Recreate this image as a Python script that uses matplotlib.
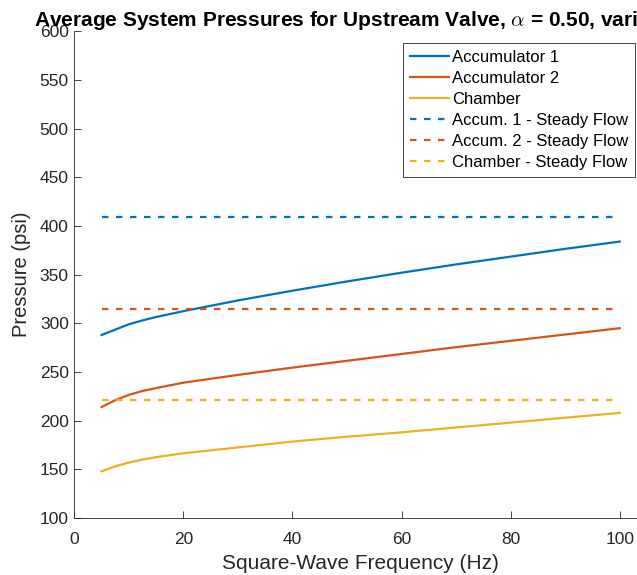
import matplotlib
matplotlib.use("Agg")
import matplotlib.pyplot as plt

plt.rcParams['font.family'] = ['Liberation Sans', 'DejaVu Sans']
plt.rcParams['mathtext.fontset'] = 'cm'

# Square-wave frequency (Hz) and average pressures (psi)
freq = [5, 7.5, 10, 12.5, 15, 20, 30, 40, 50, 60, 70, 80, 90, 100]
accum1 = [288, 293.5, 299, 303, 306.5, 312.5, 323.5, 333.5, 343, 352, 360.5, 368.5, 376.5, 384]
accum2 = [214, 221, 226.5, 230.5, 233.5, 239, 247, 254.5, 261.5, 268.5, 275.5, 282, 288.5, 295]
chamber = [148, 153, 157, 160, 162.5, 166.5, 172.5, 178.5, 183.5, 188, 193, 198, 203, 208]

# Steady-flow reference pressures (psi)
steady_freq = [5, 100]
accum1_steady = 409
accum2_steady = 314.5
chamber_steady = 221.5

labels = ["Accumulator 1", "Accumulator 2", "Chamber",
          "Accum. 1 - Steady Flow", "Accum. 2 - Steady Flow", "Chamber - Steady Flow"]
xticks = [0, 20, 40, 60, 80, 100]
yticks = list(range(100, 601, 50))

c1 = (0, 0.447, 0.741)
c2 = (0.85, 0.325, 0.098)
c3 = (0.929, 0.694, 0.125)
axc = (0.15, 0.15, 0.15)

W, H = 637, 575
fig = plt.figure(figsize=(W / 100, H / 100), dpi=100)
ax = fig.add_axes([74.3 / W, 57 / H, (647 - 74.3) / W, (518 - 31.3) / H])

lw = 1.6
dash = (0, (2.9, 3.4))
ax.plot(freq, accum1, color=c1, lw=lw, label=labels[0])
ax.plot(freq, accum2, color=c2, lw=lw, label=labels[1])
ax.plot(freq, chamber, color=c3, lw=lw, label=labels[2])
ax.plot(steady_freq, [accum1_steady] * 2, color=c1, lw=lw, ls=dash, label=labels[3])
ax.plot(steady_freq, [accum2_steady] * 2, color=c2, lw=lw, ls=dash, label=labels[4])
ax.plot(steady_freq, [chamber_steady] * 2, color=c3, lw=lw, ls=dash, label=labels[5])

ax.set_xlim(0, 105)
ax.set_ylim(100, 600)
ax.set_xticks(xticks)
ax.set_yticks(yticks)
for s in ['top', 'right']:
    ax.spines[s].set_visible(False)
for s in ['left', 'bottom']:
    ax.spines[s].set_color(axc)
    ax.spines[s].set_linewidth(0.6)
ax.tick_params(direction='in', length=5, width=0.6, colors=axc, labelsize=12.5)
ax.tick_params(axis='y', pad=4)
ax.tick_params(axis='x', pad=10)

ax.set_xlabel("Square-Wave Frequency (Hz)", fontsize=15, color=axc, labelpad=5)
ax.set_ylabel("Pressure (psi)", fontsize=14.5, color=axc, labelpad=6)

fig.text(34.5 / W, 1 - 26 / H,
         r"Average System Pressures for Upstream Valve, $\alpha$ = 0.50, variable frequency",
         fontsize=15, fontweight='bold', ha='left', va='baseline', color='black')

leg = ax.legend(loc='upper right', bbox_to_anchor=(635 / W, 1 - 43.3 / H),
                bbox_transform=fig.transFigure, borderaxespad=0, fancybox=False,
                fontsize=12, handlelength=2.35, handletextpad=0.15, labelspacing=0.36,
                borderpad=0.42, framealpha=1)
leg.get_frame().set_edgecolor(axc)
leg.get_frame().set_linewidth(0.6)

fig.savefig("out.png", dpi=100)
